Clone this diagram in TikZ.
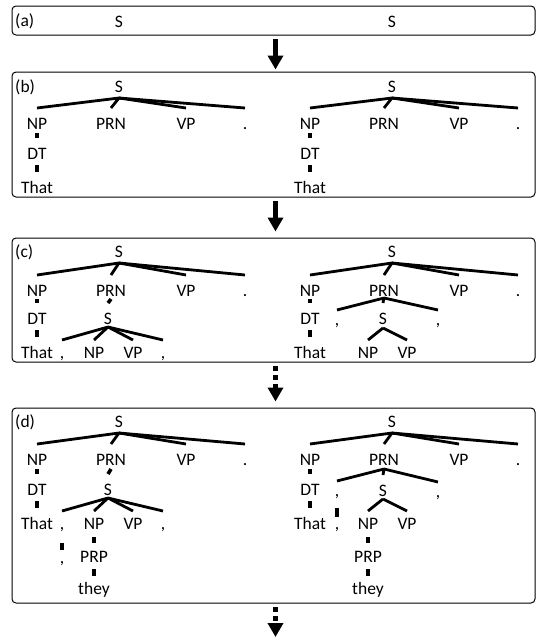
\documentclass[tikz,border=0pt]{standalone}
\usepackage{fontspec}
\setmainfont{Carlito}
\usetikzlibrary{arrows.meta}
\newcommand\lblfont{\fontsize{17.5}{21}\selectfont}
% edge from parent (dropped below its baseline) to child (raised above its baseline)
\newcommand\tedge[5][tline]{\draw[#1] ([yshift=-#3pt]#2.base) -- ([yshift=#5pt]#4.base);}
% top level tree: #1 prefix, #2 x offset, #3 S baseline, #4 first row baseline
\newcommand\toptree[4]{%
  \node[lab] (#1s) at (119+#2,#3) {S};
  \node[lab] (#1np) at (37+#2,#4) {NP};
  \node[lab] (#1prn) at (111+#2,#4) {PRN};
  \node[lab] (#1vp) at (186+#2,#4) {VP};
  \node[lab] (#1dot) at (245+#2,#4) {.};
  \foreach \ch in {np,prn,vp,dot} {\tedge{#1s}{6}{#1\ch}{21}}%
}
\begin{document}
\begin{tikzpicture}[x=1pt,y=-1pt,
  lab/.style={anchor=base, inner sep=0pt, font=\lblfont},
  plabel/.style={anchor=base west, inner sep=0pt, font=\lblfont},
  tline/.style={line width=2.8pt},
  tick/.style={line width=3.6pt},
  panel/.style={draw, line width=1pt, rounded corners=4pt, minimum width=523pt},
  flow/.style={line width=4.5pt, -{Triangle[width=15pt,length=14pt]}},
  dflow/.style={flow, dash pattern=on 5pt off 4pt}]
\useasboundingbox (0,0) rectangle (537,640);

% panels
\node[panel, minimum height=29pt] (pa) at (273.5,20.5) {};
\node[panel, minimum height=125pt] (pb) at (273.5,134.5) {};
\node[panel, minimum height=124pt] (pc) at (273.5,300) {};
\node[panel, minimum height=195pt] (pd) at (273.5,505.5) {};

% arrows between panels
\draw[flow, shorten <=3.5pt, shorten >=2pt] ([xshift=2pt]pa.south) -- ([xshift=2pt]pb.north);
\draw[flow, shorten <=3.5pt, shorten >=6pt] ([xshift=2pt]pb.south) -- ([xshift=2pt]pc.north);
\draw[dflow, shorten <=3.5pt, shorten >=6pt] ([xshift=2pt]pc.south) -- ([xshift=2pt]pd.north);
\coordinate (fend) at (275.5,637);
\draw[dflow, shorten <=3.5pt] ([xshift=2pt]pd.south) -- (fend);

% ---------- (a)
\node[plabel] (la) at (15,26) {(a)};
\node[lab] (a1s) at (119,27) {S};
\node[lab] (a2s) at (392,27) {S};

% ---------- (b)
\node[plabel] (lb) at (15,92) {(b)};
\toptree{b1}{0}{92}{129}
\toptree{b2}{273}{92}{129}
\node[lab] (b1dt) at (37,159) {DT};
\node[lab] (b1that) at (37,193) {That};
\node[lab] (b2dt) at (310,159) {DT};
\node[lab] (b2that) at (310,193) {That};
\tedge[tick]{b1np}{4}{b1dt}{21}
\tedge[tick]{b1dt}{6}{b1that}{21}
\tedge[tick]{b2np}{4}{b2dt}{21}
\tedge[tick]{b2dt}{6}{b2that}{21}

% ---------- (c)
\node[plabel] (lc) at (15,257) {(c)};
\toptree{c1}{0}{257}{296}
\toptree{c2}{273}{257}{296}
% left tree
\node[lab] (c1dt) at (37,324) {DT};
\node[lab] (c1that) at (37,358) {That};
\node[lab] (c1s2) at (108,324) {S};
\node[lab] (c1ca) at (62,358) {,};
\node[lab] (c1np2) at (94,358) {NP};
\node[lab] (c1vp2) at (133,358) {VP};
\node[lab] (c1cb) at (163,358) {,};
\tedge[tick]{c1np}{3}{c1dt}{21}
\tedge[tick]{c1dt}{6}{c1that}{21}
\tedge[tick]{c1prn}{3}{c1s2}{21}
\foreach \ch in {ca,np2,vp2,cb} {\tedge{c1s2}{3}{c1\ch}{18}}
% right tree
\node[lab] (c2dt) at (310,324) {DT};
\node[lab] (c2that) at (310,358) {That};
\node[lab] (c2ca) at (337,325) {,};
\node[lab] (c2s2) at (383,324) {S};
\node[lab] (c2cb) at (438,325) {,};
\node[lab] (c2np2) at (368,358) {NP};
\node[lab] (c2vp2) at (407,358) {VP};
\tedge[tick]{c2np}{3}{c2dt}{21}
\tedge[tick]{c2dt}{6}{c2that}{21}
\tedge{c2prn}{2}{c2ca}{15}
\tedge{c2prn}{2}{c2cb}{15}
\tedge{c2prn}{2}{c2s2}{21}
\tedge{c2s2}{4}{c2np2}{18}
\tedge{c2s2}{4}{c2vp2}{18}

% ---------- (d)
\node[plabel] (ld) at (15,427) {(d)};
\toptree{d1}{0}{427}{465}
\toptree{d2}{273}{427}{465}
% left tree
\node[lab] (d1dt) at (37,495) {DT};
\node[lab] (d1that) at (37,529) {That};
\node[lab] (d1s2) at (108,495) {S};
\node[lab] (d1ca) at (62,529) {,};
\node[lab] (d1np2) at (94,529) {NP};
\node[lab] (d1vp2) at (133,529) {VP};
\node[lab] (d1cb) at (163,529) {,};
\node[lab] (d1cw) at (62,563) {,};
\node[lab] (d1prp) at (94,562) {PRP};
\node[lab] (d1they) at (94,594) {they};
\tedge[tick]{d1np}{4}{d1dt}{21}
\tedge[tick]{d1dt}{6}{d1that}{21}
\tedge[tick]{d1prn}{4}{d1s2}{21}
\foreach \ch in {ca,np2,vp2,cb} {\tedge{d1s2}{3}{d1\ch}{18}}
\tedge[tick]{d1ca}{14}{d1cw}{13}
\tedge[tick]{d1np2}{8}{d1prp}{19}
\tedge[tick]{d1prp}{7}{d1they}{18}
% right tree
\node[lab] (d2dt) at (310,495) {DT};
\node[lab] (d2that) at (310,529) {That};
\node[lab] (d2ca) at (337,496) {,};
\node[lab] (d2s2) at (383,496) {S};
\node[lab] (d2cb) at (438,497) {,};
\node[lab] (d2cw) at (337,529) {,};
\node[lab] (d2np2) at (368,529) {NP};
\node[lab] (d2vp2) at (407,529) {VP};
\node[lab] (d2prp) at (368,562) {PRP};
\node[lab] (d2they) at (368,594) {they};
\tedge[tick]{d2np}{4}{d2dt}{21}
\tedge[tick]{d2dt}{6}{d2that}{21}
\tedge{d2prn}{4}{d2ca}{15}
\tedge{d2prn}{4}{d2cb}{15}
\tedge{d2prn}{4}{d2s2}{21}
\tedge{d2s2}{3}{d2np2}{18}
\tedge{d2s2}{3}{d2vp2}{18}
\tedge[tick]{d2ca}{12}{d2cw}{12}
\tedge[tick]{d2np2}{8}{d2prp}{19}
\tedge[tick]{d2prp}{7}{d2they}{18}
\end{tikzpicture}
\end{document}
